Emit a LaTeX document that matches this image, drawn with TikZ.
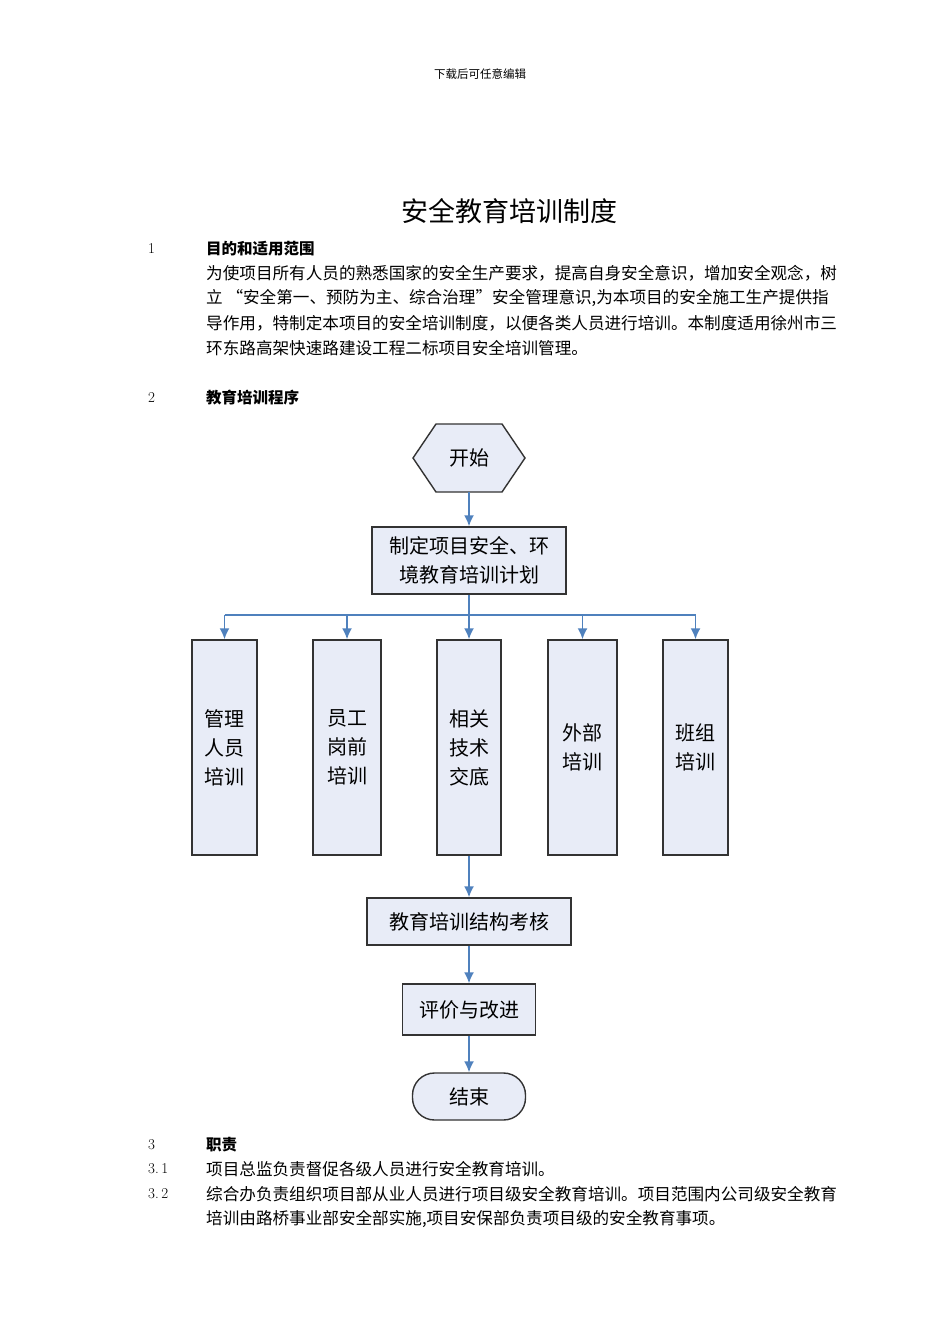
\documentclass[tikz,border=0pt]{standalone}
\usepackage{fontspec}
\usetikzlibrary{arrows.meta}
\newfontfamily\cjk{Noto Sans CJK SC}
\definecolor{arrblue}{RGB}{79,129,189}
\definecolor{boxfill}{RGB}{232,236,247}
\begin{document}
\begin{tikzpicture}[x=1pt,y=-1pt,
  txt/.style={anchor=west,inner sep=0pt,font=\cjk\fontsize{16.6}{18}\selectfont},
  num/.style={anchor=west,inner sep=0pt,font=\fontsize{15}{16}\selectfont},
  hd/.style={anchor=west,inner sep=0pt,font=\cjk\bfseries\fontsize{15.5}{16}\selectfont},
  fbox/.style={draw=black!80,line width=1.4pt,fill=boxfill,inner sep=0pt,align=center,font=\cjk\fontsize{20}{29}\selectfont},
  arr/.style={draw=arrblue,line width=1.8pt,-{Latex[length=11pt,width=10pt]}},
  ln/.style={draw=arrblue,line width=1.8pt}]
\useasboundingbox (0,0) rectangle (950,1344);
\fill[white] (0,0) rectangle (950,1344);
\node[inner sep=0pt,font=\cjk\fontsize{11.5}{12}\selectfont] (hdr) at (480,74) {下载后可任意编辑};
\node[inner sep=0pt,font=\cjk\fontsize{27}{30}\selectfont] (title) at (509,211) {安全教育培训制度};
\node[num] (n1) at (148,249) {1};
\node[hd] (h1) at (206,249) {目的和适用范围};
\node[txt] (p1) at (206,273) {为使项目所有人员的熟悉国家的安全生产要求，提高自身安全意识，增加安全观念，树};
\node[txt] (p2) at (206,298) {立\ “安全第一、预防为主、综合治理”安全管理意识,为本项目的安全施工生产提供指};
\node[txt] (p3) at (206,323) {导作用，特制定本项目的安全培训制度，以便各类人员进行培训。本制度适用徐州市三};
\node[txt] (p4) at (206,348) {环东路高架快速路建设工程二标项目安全培训管理。};
\node[num] (n2) at (148,398) {2};
\node[hd] (h2) at (206,398) {教育培训程序};
% flowchart
\draw[fbox] (413,458)--(436,424)--(502,424)--(525,458)--(502,492)--(436,492)--cycle;
\node[inner sep=0pt,font=\cjk\fontsize{20}{24}\selectfont] (start) at (469,458) {开始};
\coordinate (startb) at (469,492);
\node[fbox,minimum width=194pt,minimum height=67pt] (plan) at (469,560.5) {制定项目安全、环\\境教育培训计划};
\foreach \n/\x/\w/\t in {a/224.5/65/管理\\人员\\培训, b/347/68/员工\\岗前\\培训, c/469/64/相关\\技术\\交底, d/582.5/69/外部\\培训, e/695.5/65/班组\\培训}{
  \node[fbox,minimum width=\w pt,minimum height=215pt] (\n) at (\x,747.5) {\t};
}
\coordinate (bus) at (469,615);
\draw[arr] (startb) -- (plan.north);
\draw[ln] (plan.south) -- (bus);
\draw[ln] (a.north |- bus) -- (e.north |- bus);
\foreach \n in {a,b,c,d,e}{ \draw[arr] (\n.north |- bus) -- (\n.north); }
\node[fbox,minimum width=204pt,minimum height=47pt] (exam) at (469,921.5) {教育培训结构考核};
\node[fbox,minimum width=133pt,minimum height=51pt] (eval) at (469,1009.5) {评价与改进};
\node[fbox,rounded corners=22pt,minimum width=113pt,minimum height=47pt] (end) at (469,1096.5) {结束};
\draw[arr] (c.south) -- (exam.north);
\draw[arr] (exam.south) -- (eval.north);
\draw[arr] (eval.south) -- (end.north);
% section 3
\node[num] (n3) at (148,1145) {3};
\node[hd] (h3) at (206,1145) {职责};
\node[num] (n31) at (148,1169) {3.\,1};
\node[txt] (q1) at (206,1169) {项目总监负责督促各级人员进行安全教育培训。};
\node[num] (n32) at (148,1194) {3.\,2};
\node[txt] (q2) at (206,1194) {综合办负责组织项目部从业人员进行项目级安全教育培训。项目范围内公司级安全教育};
\node[txt] (q3) at (206,1219) {培训由路桥事业部安全部实施,项目安保部负责项目级的安全教育事项。};
\end{tikzpicture}
\end{document}
